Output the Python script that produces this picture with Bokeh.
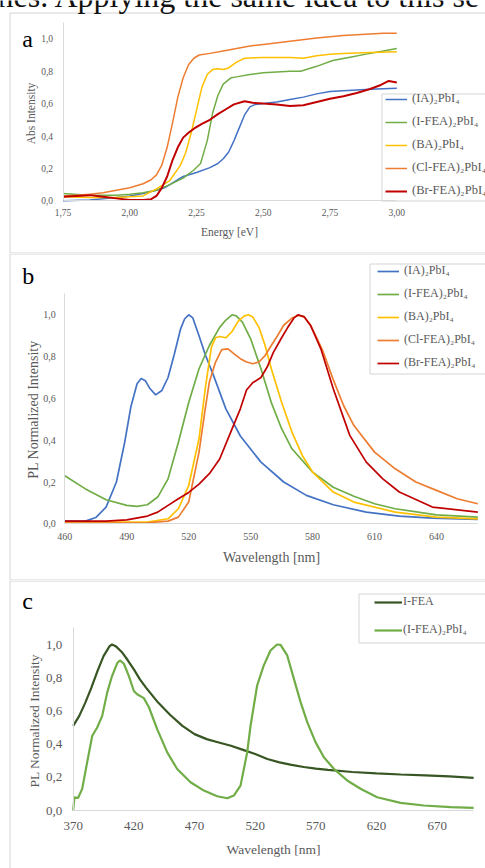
from bokeh.plotting import figure
from bokeh.layouts import column
from bokeh.models import (Range1d, FixedTicker, CustomJSTickFormatter, Legend,
                          LegendItem, BoxAnnotation, Label)
from bokeh.embed import file_html
from bokeh.resources import INLINE

FONT = "Liberation Serif"
GRAY_TXT = "#595959"
AXIS_LINE = "#d9d9d9"
BORDER = "#d4d4d4"
W = 485

# ---------------- panel a : absorption ----------------
a_series = ["(IA)₂PbI₄", "(I-FEA)₂PbI₄", "(BA)₂PbI₄", "(Cl-FEA)₂PbI₄", "(Br-FEA)₂PbI₄"]
a_x_ticks = [1.75, 2.00, 2.25, 2.50, 2.75, 3.00]
y_ticks = [0.0, 0.2, 0.4, 0.6, 0.8, 1.0]

a_ia_e = [1.75, 1.85, 1.95, 2.00, 2.05, 2.10, 2.13, 2.15, 2.18, 2.20, 2.25, 2.30, 2.33, 2.35,
          2.37, 2.39, 2.41, 2.43, 2.45, 2.47, 2.50, 2.55, 2.60, 2.65, 2.70, 2.75, 2.80, 2.90, 3.00]
a_ia_v = [0.00, 0.005, 0.02, 0.03, 0.045, 0.065, 0.08, 0.10, 0.13, 0.15, 0.175, 0.205, 0.23, 0.26,
          0.30, 0.37, 0.45, 0.53, 0.58, 0.595, 0.60, 0.61, 0.625, 0.64, 0.66, 0.675, 0.68, 0.688, 0.695]

a_ifea_e = [1.75, 1.85, 1.95, 2.00, 2.05, 2.10, 2.15, 2.20, 2.24, 2.265, 2.29, 2.31, 2.33, 2.35,
            2.38, 2.40, 2.45, 2.50, 2.55, 2.60, 2.64, 2.70, 2.76, 2.82, 2.89, 2.95, 3.00]
a_ifea_v = [0.045, 0.035, 0.035, 0.04, 0.05, 0.065, 0.10, 0.14, 0.19, 0.23, 0.37, 0.54, 0.65, 0.72,
            0.76, 0.765, 0.78, 0.79, 0.795, 0.80, 0.80, 0.83, 0.866, 0.885, 0.907, 0.925, 0.94]

a_ba_e = [1.75, 1.85, 1.95, 2.05, 2.10, 2.15, 2.19, 2.21, 2.23, 2.25, 2.27, 2.29, 2.31, 2.33,
          2.35, 2.37, 2.40, 2.43, 2.50, 2.55, 2.60, 2.65, 2.70, 2.75, 2.80, 2.90, 3.00]
a_ba_v = [0.025, 0.02, 0.02, 0.03, 0.074, 0.125, 0.22, 0.30, 0.42, 0.56, 0.70, 0.78, 0.81, 0.815,
          0.81, 0.82, 0.856, 0.88, 0.885, 0.885, 0.885, 0.88, 0.895, 0.905, 0.91, 0.915, 0.92]

a_clfea_e = [1.75, 1.80, 1.85, 1.90, 1.95, 2.00, 2.05, 2.08, 2.10, 2.12, 2.14, 2.16, 2.18, 2.20,
             2.22, 2.24, 2.26, 2.30, 2.35, 2.40, 2.45, 2.50, 2.60, 2.70, 2.80, 2.90, 2.95, 3.00]
a_clfea_v = [0.03, 0.035, 0.04, 0.05, 0.065, 0.08, 0.105, 0.13, 0.16, 0.22, 0.33, 0.48, 0.64, 0.76,
             0.84, 0.88, 0.90, 0.91, 0.925, 0.94, 0.955, 0.965, 0.985, 1.005, 1.02, 1.03, 1.035, 1.035]

a_brfea_e = [1.75, 1.80, 1.85, 1.90, 1.95, 2.00, 2.05, 2.08, 2.10, 2.12, 2.14, 2.16, 2.18, 2.20,
             2.22, 2.24, 2.27, 2.30, 2.33, 2.36, 2.39, 2.43, 2.46, 2.50, 2.55, 2.60, 2.65, 2.70,
             2.75, 2.80, 2.85, 2.90, 2.94, 2.97, 3.00]
a_brfea_v = [0.025, 0.03, 0.035, 0.025, 0.015, 0.005, 0.005, 0.01, 0.03, 0.08, 0.15, 0.25, 0.33, 0.39,
             0.42, 0.445, 0.475, 0.50, 0.535, 0.565, 0.595, 0.615, 0.605, 0.60, 0.595, 0.585, 0.59, 0.61,
             0.63, 0.645, 0.665, 0.69, 0.715, 0.74, 0.73]

# ---------------- panel b : PL ----------------
b_x_ticks = [460, 490, 520, 550, 580, 610, 640]

b_ia_x = [460, 470, 475, 480, 485, 489, 492, 495, 497, 499, 501, 504, 507, 510, 513, 516, 518, 520,
          522, 525, 528, 532, 538, 545, 555, 566, 577, 590, 606, 622, 638, 660]
b_ia_y = [0.013, 0.013, 0.03, 0.08, 0.20, 0.39, 0.56, 0.67, 0.695, 0.685, 0.65, 0.617, 0.638, 0.70,
          0.81, 0.93, 0.98, 1.0, 0.985, 0.90, 0.81, 0.71, 0.55, 0.42, 0.295, 0.20, 0.136, 0.091,
          0.056, 0.037, 0.027, 0.021]

b_ifea_x = [460, 470, 480, 490, 495, 500, 505, 510, 515, 520, 525, 530, 535, 538, 541, 543, 546,
            550, 555, 560, 565, 570, 580, 590, 600, 610, 620, 640, 660]
b_ifea_y = [0.23, 0.167, 0.115, 0.088, 0.083, 0.091, 0.128, 0.215, 0.39, 0.58, 0.742, 0.853, 0.94,
            0.975, 1.0, 0.995, 0.965, 0.885, 0.742, 0.58, 0.455, 0.359, 0.247, 0.175, 0.132, 0.096,
            0.072, 0.043, 0.032]

b_ba_x = [460, 500, 510, 515, 520, 525, 528, 531, 533, 535, 538, 541, 544, 547, 549, 551, 554, 557,
          560, 565, 570, 575, 580, 590, 600, 620, 640, 660]
b_ba_y = [0.008, 0.008, 0.024, 0.072, 0.183, 0.407, 0.646, 0.845, 0.89, 0.896, 0.89, 0.92, 0.97,
          0.995, 1.0, 0.99, 0.94, 0.853, 0.742, 0.582, 0.439, 0.327, 0.247, 0.152, 0.104, 0.056,
          0.032, 0.024]

b_clfea_x = [460, 500, 510, 515, 520, 525, 528, 530, 533, 536, 539, 542, 545, 548, 551, 554, 557,
             560, 563, 566, 570, 573, 576, 579, 582, 585, 590, 595, 600, 610, 620, 630, 640, 650, 660]
b_clfea_y = [0.003, 0.005, 0.013, 0.032, 0.104, 0.343, 0.55, 0.678, 0.774, 0.833, 0.837, 0.813,
             0.79, 0.774, 0.766, 0.774, 0.805, 0.853, 0.90, 0.95, 0.984, 0.997, 0.99, 0.95, 0.89,
             0.826, 0.69, 0.566, 0.47, 0.343, 0.263, 0.20, 0.16, 0.12, 0.096]

b_brfea_x = [460, 480, 490, 500, 505, 510, 515, 520, 525, 530, 535, 540, 545, 548, 551, 555, 558,
             561, 565, 568, 571, 573, 576, 579, 584, 590, 598, 606, 614, 622, 638, 660]
b_brfea_y = [0.013, 0.013, 0.019, 0.037, 0.056, 0.088, 0.12, 0.15, 0.19, 0.24, 0.31, 0.43, 0.55,
             0.64, 0.675, 0.70, 0.75, 0.82, 0.89, 0.94, 0.985, 1.0, 0.99, 0.949, 0.837, 0.646, 0.423,
             0.295, 0.215, 0.152, 0.08, 0.056]

# ---------------- panel c : ligand vs perovskite ----------------
c_series = ["I-FEA", "(I-FEA)₂PbI₄"]
c_x_ticks = [370, 420, 470, 520, 570, 620, 670]

c_lig_x = [370, 375, 380, 385, 390, 395, 400, 402, 405, 410, 415, 420, 425, 430, 440, 450, 460,
           470, 480, 490, 500, 510, 520, 530, 540, 550, 560, 570, 580, 600, 620, 640, 660, 680, 700]
c_lig_y = [0.51, 0.57, 0.65, 0.74, 0.84, 0.93, 0.99, 1.0, 0.99, 0.955, 0.905, 0.85, 0.79, 0.74,
           0.65, 0.575, 0.51, 0.46, 0.43, 0.41, 0.39, 0.365, 0.34, 0.31, 0.29, 0.275, 0.262, 0.252,
           0.245, 0.232, 0.224, 0.217, 0.212, 0.205, 0.196]

c_pvk_x = [370, 371, 374, 377.4, 381.5, 385.7, 389.8, 393.9, 398, 402, 406.3, 408.5, 411.8, 415.9,
           420, 422.7, 428.2, 432.4, 439.2, 447.5, 455.7, 466.7, 477.7, 488.7, 497, 502.4, 507.9,
           513.4, 516.2, 521.6, 527, 532.6, 538, 540.9, 546.4, 551.9, 557.4, 562.9, 569.7, 576.6,
           584.8, 595.8, 606.8, 620.5, 639.8, 659, 681, 700]
c_pvk_y = [0.0, 0.08, 0.075, 0.13, 0.29, 0.45, 0.50, 0.57, 0.71, 0.81, 0.888, 0.904, 0.884, 0.81,
           0.72, 0.70, 0.677, 0.622, 0.49, 0.35, 0.25, 0.17, 0.12, 0.086, 0.074, 0.09, 0.15, 0.35,
           0.512, 0.753, 0.873, 0.964, 1.0, 0.998, 0.934, 0.793, 0.653, 0.532, 0.412, 0.321, 0.251,
           0.181, 0.131, 0.08, 0.046, 0.03, 0.02, 0.016]

COL5 = ["#4472C4", "#70AD47", "#FFC000", "#ED7D31", "#C00000"]
COL2 = ["#375623", "#70AD47"]


def canvas_range(p_lo, p_hi, v_lo, v_hi, total, flip=False):
    """Range whose ends sit on the canvas edges so that v_lo/v_hi land on pixels p_lo/p_hi."""
    if not flip:
        s = (p_hi - p_lo) / (v_hi - v_lo)
        return Range1d(v_lo - p_lo / s, v_hi + (total - p_hi) / s)
    s = (p_lo - p_hi) / (v_hi - v_lo)        # p_lo is the bottom pixel (larger)
    return Range1d(v_lo - (total - p_lo) / s, v_hi + p_hi / s)


def make_fig(h, xr, yr):
    p = figure(width=W, height=h, x_range=xr, y_range=yr,
               output_backend="svg", toolbar_location=None,
               min_border_left=0, min_border_right=0, min_border_top=0, min_border_bottom=0)
    p.grid.visible = False
    p.outline_line_color = None
    p.background_fill_color = "white"
    p.border_fill_color = "white"
    return p


def style_axis(ax, tick_px, standoff, loc, bounds, ticks, fmt=None):
    ax.fixed_location = loc
    ax.bounds = bounds
    ax.ticker = FixedTicker(ticks=ticks)
    if fmt is not None:
        ax.formatter = fmt
    ax.axis_line_color = AXIS_LINE
    ax.axis_line_width = 1
    ax.major_tick_line_color = None
    ax.minor_tick_line_color = None
    ax.major_tick_out = 0
    ax.major_tick_in = 0
    ax.major_label_text_font = FONT
    ax.major_label_text_font_size = f"{tick_px}px"
    ax.major_label_text_color = GRAY_TXT
    ax.major_label_standoff = standoff


def comma_fmt(dec):
    return CustomJSTickFormatter(code=f"return tick.toFixed({dec}).replace('.', ',');")


def box(left, top, bottom, right=2000):
    return BoxAnnotation(left=left, right=right, top=top, bottom=bottom,
                         left_units="canvas", right_units="canvas",
                         top_units="canvas", bottom_units="canvas",
                         fill_alpha=0, line_color=BORDER, line_alpha=1, line_width=1)


def text(txt, x, y, size, color=GRAY_TXT, align="center", angle=0):
    return Label(x=x, y=y, x_units="canvas", y_units="canvas", text=txt,
                 text_font=FONT, text_font_size=f"{size}px", text_color=color,
                 text_baseline="middle", text_align=align, angle=angle, angle_units="deg")


def big(txt, x, base_y, size, color="black"):
    # place a text by its baseline (middle-anchored box: baseline sits ~0.34 em below the anchor)
    return text(txt, x, base_y - 0.34 * size, size, color=color, align="left")


def add_legend(p, items, loc, spacing, font_px, glyph_w, standoff):
    lg = Legend(items=items, location=loc, orientation="vertical", padding=4,
                spacing=spacing, glyph_width=glyph_w, glyph_height=14, label_height=14,
                label_standoff=standoff, label_text_font=FONT,
                label_text_font_size=f"{font_px}px", label_text_color=GRAY_TXT,
                border_line_alpha=0, background_fill_alpha=0, margin=0)
    p.add_layout(lg, "center")


# ---------- figure a ----------
HA = 253
pa = make_fig(HA, canvas_range(62.5, 396.3, 1.75, 3.0, W),
              canvas_range(200.3, 38.3, 0.0, 1.0, HA, flip=True))
pa.add_layout(box(9.5, 12.5, 252.5))
pa.add_layout(box(381.5, 93.5, 200.5))
a_data = [(a_ia_e, a_ia_v), (a_ifea_e, a_ifea_v), (a_ba_e, a_ba_v),
          (a_clfea_e, a_clfea_v), (a_brfea_e, a_brfea_v)]
items = []
for name, (xs, ys), c in zip(a_series, a_data, COL5):
    lw = 2 if c == "#C00000" else 1.5
    r = pa.line(xs, ys, line_color=c, line_width=lw)
    items.append(LegendItem(label=name, renderers=[r]))
style_axis(pa.xaxis[0], 9.5, 8, 0.0, (1.75, 3.0), a_x_ticks, comma_fmt(2))
style_axis(pa.yaxis[0], 9.5, 10, 1.75, (0.0, 1.1), y_ticks, comma_fmt(1))
add_legend(pa, items, (381, 51), 8, 12.5, 22, 5)
pa.add_layout(text("Energy [eV]", 229, 231, 11.5))
pa.add_layout(text("Abs Intensity", 30.5, 113, 11.5, angle=90))
pa.add_layout(big("nes. Applying the same idea to this se", -3, 6.0, 32, color="#111111"))
pa.add_layout(big("a", 21.7, 46.7, 24))

# ---------- figure b ----------
HB = 327
pb = make_fig(HB, canvas_range(64.3, 436.0, 460, 640, W),
              canvas_range(270.3, 61.3, 0.0, 1.0, HB, flip=True))
pb.add_layout(box(9.5, 0.5, 326.5))
pb.add_layout(box(369.5, 10.5, 120.5))
b_data = [(b_ia_x, b_ia_y), (b_ifea_x, b_ifea_y), (b_ba_x, b_ba_y),
          (b_clfea_x, b_clfea_y), (b_brfea_x, b_brfea_y)]
items = []
for name, (xs, ys), c in zip(a_series, b_data, COL5):
    r = pb.line(xs, ys, line_color=c, line_width=1.7)
    items.append(LegendItem(label=name, renderers=[r]))
style_axis(pb.xaxis[0], 10, 9, 0.0, (460, 660), b_x_ticks)
style_axis(pb.yaxis[0], 10, 9, 460, (0.0, 1.1), y_ticks, comma_fmt(1))
add_legend(pb, items, (373, 206), 8, 12, 22, 5)
pb.add_layout(text("Wavelength [nm]", 271, 303.7, 14))
pb.add_layout(text("PL Normalized Intensity", 32.5, 156, 14, angle=90))
pb.add_layout(big("b", 21.7, 283.3 - 253, 24))

# ---------- figure c ----------
HC = 288
pc = make_fig(HC, canvas_range(72.7, 436.7, 370, 670, W),
              canvas_range(230.0, 64.0, 0.0, 1.0, HC, flip=True))
pc.add_layout(box(9.5, 0.5, 1000))
pc.add_layout(box(358.5, 13.5, 62.5))
c_data = [(c_lig_x, c_lig_y), (c_pvk_x, c_pvk_y)]
items = []
for name, (xs, ys), c in zip(c_series, c_data, COL2):
    r = pc.line(xs, ys, line_color=c, line_width=2.2)
    items.append(LegendItem(label=name, renderers=[r]))
style_axis(pc.xaxis[0], 13, 11, 0.0, (370, 700), c_x_ticks)
style_axis(pc.yaxis[0], 13, 11, 370, (0.0, 1.1), y_ticks, comma_fmt(1))
add_legend(pc, items, (370, 227), 13, 12, 28, 1)
pc.add_layout(text("Wavelength [nm]", 273, 269, 13.5))
pc.add_layout(text("PL Normalized Intensity", 34, 140.3, 13.5, angle=90))
pc.add_layout(big("c", 21.7, 608.3 - 580, 24))

layout = column(pa, pb, pc, spacing=0)
open("out.html", "w").write(file_html(layout, INLINE))
